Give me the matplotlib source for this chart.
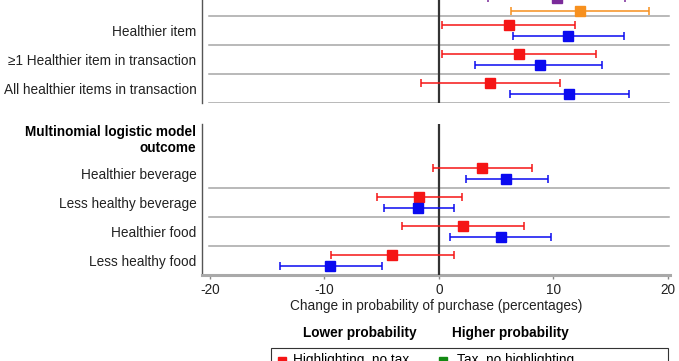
import matplotlib
matplotlib.use("Agg")
import matplotlib.pyplot as plt
from matplotlib.lines import Line2D
from matplotlib.patches import Rectangle
import numpy as np

plt.rcParams["font.family"] = ["Liberation Sans", "DejaVu Sans"]

# ---- data (percentage-point change, estimate / lower CI / upper CI) ----------
top_labels = ["", "Healthier item", "\u22651 Healthier item in transaction",
              "All healthier items in transaction"]
bottom_labels = ["Healthier beverage", "Less healthy beverage",
                 "Healthier food", "Less healthy food"]
bottom_title = "Multinomial logistic model\noutcome"

# top panel
top_red_est = [np.nan, 6.1, 7.0, 4.5]
top_red_lo = [np.nan, 0.3, 0.3, -1.6]
top_red_hi = [np.nan, 11.9, 13.7, 10.6]
top_blue_est = [np.nan, 11.3, 8.8, 11.4]
top_blue_lo = [np.nan, 6.5, 3.2, 6.2]
top_blue_hi = [np.nan, 16.2, 14.3, 16.6]
top_purple_est = [10.3, np.nan, np.nan, np.nan]
top_purple_lo = [4.3, np.nan, np.nan, np.nan]
top_purple_hi = [16.3, np.nan, np.nan, np.nan]
top_orange_est = [12.3, np.nan, np.nan, np.nan]
top_orange_lo = [6.3, np.nan, np.nan, np.nan]
top_orange_hi = [18.4, np.nan, np.nan, np.nan]

# bottom panel
bot_red_est = [3.8, -1.7, 2.1, -4.1]
bot_red_lo = [-0.5, -5.4, -3.2, -9.4]
bot_red_hi = [8.1, 2.0, 7.4, 1.3]
bot_blue_est = [5.9, -1.8, 5.4, -9.5]
bot_blue_lo = [2.4, -4.8, 1.0, -13.9]
bot_blue_hi = [9.5, 1.3, 9.8, -5.0]

x_ticks = [-20, -10, 0, 10, 20]
legend_labels = ["Highlighting, no tax", "Tax, no highlighting"]

RED = "#f51515"
BLUE = "#0a0af0"
PURPLE = "#7a2a9a"
ORANGE = "#f7901e"
GREEN = "#128a12"
SEP = "#a6a6a6"
FS = 9.8

W, H = 679, 361
fig = plt.figure(figsize=(W / 100, H / 100), dpi=100)


def fx(px):
    return px / W


def fy(py):
    return 1 - py / H


XL = (-20.7, 20.2)
ax_top = fig.add_axes([fx(202), fy(103), fx(670) - fx(202), fy(0) - fy(103)])
ax_bot = fig.add_axes([fx(202), fy(275), fx(670) - fx(202), fy(124) - fy(275)])


def draw_series(ax, est, lo, hi, offset, color):
    est = np.asarray(est, float)
    lo = np.asarray(lo, float)
    hi = np.asarray(hi, float)
    y = np.arange(len(est)) + offset
    ok = np.isfinite(est)
    ax.errorbar(est[ok], y[ok], xerr=[est[ok] - lo[ok], hi[ok] - est[ok]],
                fmt="s", color=color, ecolor=color, elinewidth=1.1,
                capsize=3.2, capthick=1.1, markersize=6.5, zorder=5)


for ax in (ax_top, ax_bot):
    ax.set_xlim(*XL)
    ax.axvline(0, color="#333333", linewidth=1.6, zorder=3)
    for s in ("top", "right"):
        ax.spines[s].set_visible(False)
    ax.spines["left"].set_color("#555555")
    ax.spines["left"].set_linewidth(1.0)
    ax.tick_params(axis="y", length=0, pad=4, labelsize=FS, labelcolor="#222222")

# ---- top panel ----------------------------------------------------------------
ax_top.set_ylim(3.5, -0.052)
ax_top.spines["bottom"].set_visible(False)
ax_top.set_xticks([])
ax_top.set_yticks(range(len(top_labels)))
ax_top.set_yticklabels(top_labels)
for k in range(len(top_labels)):
    ax_top.axhline(k + 0.5, xmin=0.015, xmax=0.998, color=SEP, linewidth=1.1, zorder=1)
draw_series(ax_top, top_red_est, top_red_lo, top_red_hi, -0.2, RED)
draw_series(ax_top, top_blue_est, top_blue_lo, top_blue_hi, 0.2, BLUE)
draw_series(ax_top, top_purple_est, top_purple_lo, top_purple_hi, -0.12, PURPLE)
draw_series(ax_top, top_orange_est, top_orange_lo, top_orange_hi, 0.33, ORANGE)

# ---- bottom panel -------------------------------------------------------------
ax_bot.set_ylim(3.5, -1.71)
ax_bot.set_yticks([-1.25] + list(range(len(bottom_labels))))
ax_bot.set_yticklabels([bottom_title] + bottom_labels)
ax_bot.get_yticklabels()[0].set_fontweight("bold")
ax_bot.get_yticklabels()[0].set_color("black")
for k in range(len(bottom_labels) - 1):
    ax_bot.axhline(k + 0.5, xmin=0.015, xmax=0.998, color=SEP, linewidth=1.1, zorder=1)
draw_series(ax_bot, bot_red_est, bot_red_lo, bot_red_hi, -0.2, RED)
draw_series(ax_bot, bot_blue_est, bot_blue_lo, bot_blue_hi, 0.2, BLUE)

ax_bot.spines["bottom"].set_color("#a9a9a9")
ax_bot.spines["bottom"].set_linewidth(2.2)
ax_bot.set_xticks(x_ticks)
ax_bot.set_xticklabels([f"{v:g}" for v in x_ticks])
ax_bot.tick_params(axis="x", length=3, width=1, color="#888888", pad=3,
                   labelsize=FS, labelcolor="#222222")
ax_bot.set_xlabel("Change in probability of purchase (percentages)",
                  fontsize=FS, color="#222222", labelpad=1)

# ---- direction captions and (cropped) legend ---------------------------------
fig.text(fx(360), fy(333), "Lower probability", fontsize=FS, fontweight="bold",
         ha="center", va="center")
fig.text(fx(510), fy(333), "Higher probability", fontsize=FS, fontweight="bold",
         ha="center", va="center")

fig.add_artist(Rectangle((fx(271), fy(375)), fx(668) - fx(271), fy(348) - fy(375),
                         transform=fig.transFigure, fill=False,
                         edgecolor="#333333", linewidth=0.8))
for (mx, tx), lab, col in zip([(282, 293), (443, 457)], legend_labels, [RED, GREEN]):
    fig.add_artist(Line2D([fx(mx)], [fy(361)], marker="s", color=col,
                          markersize=6, transform=fig.transFigure))
    fig.text(fx(tx), fy(360), lab, fontsize=FS, ha="left", va="center")

fig.savefig("out.png", dpi=100)
